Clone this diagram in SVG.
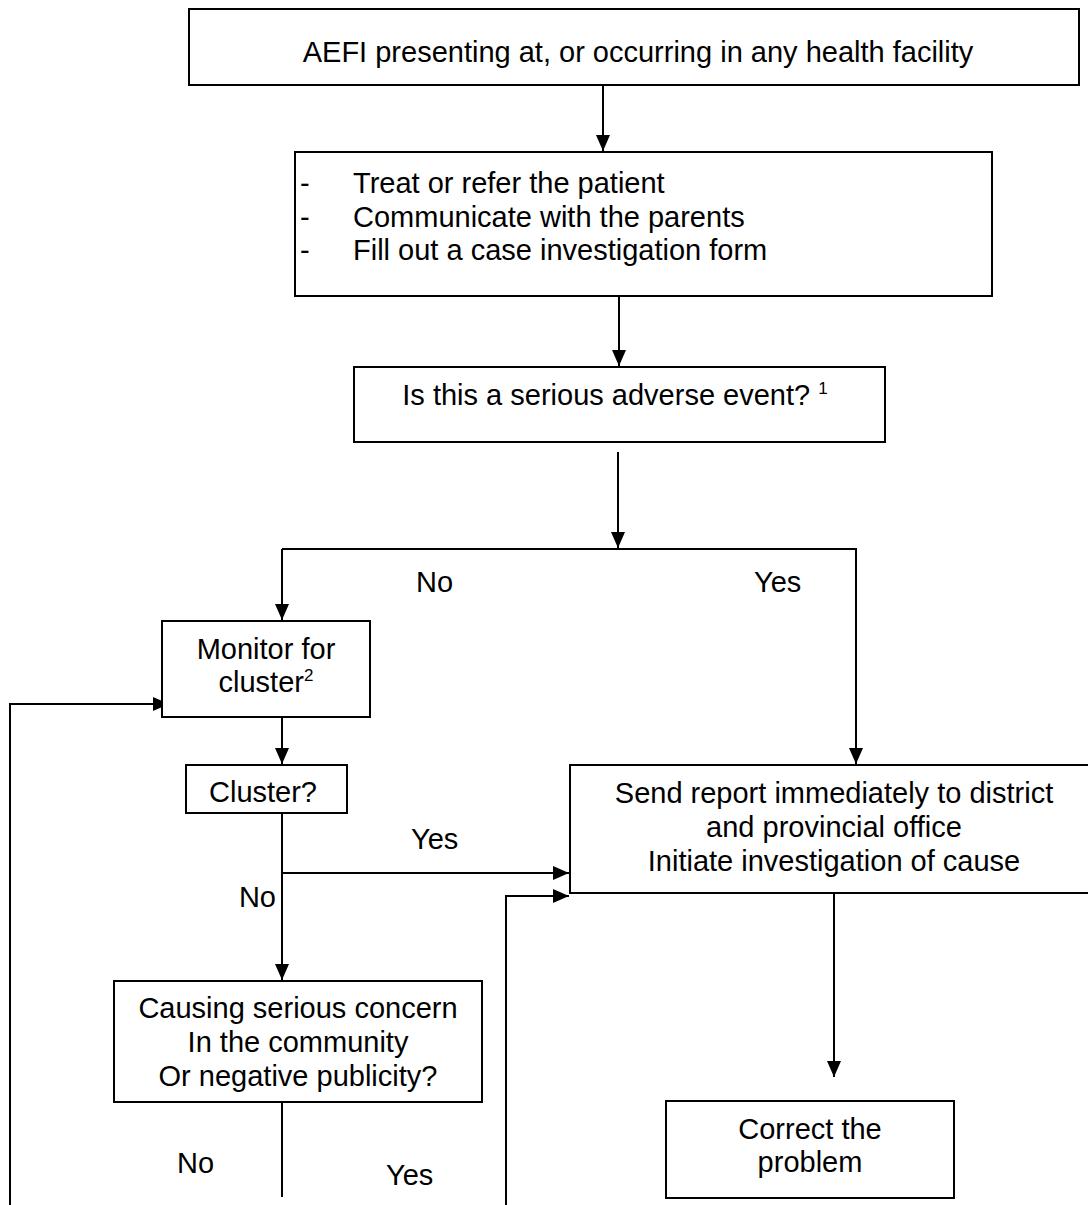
<svg xmlns="http://www.w3.org/2000/svg" width="1088" height="1205" viewBox="0 0 1088 1205">
<defs>
<marker id="ah" markerUnits="userSpaceOnUse" markerWidth="16" markerHeight="14" refX="16" refY="7" orient="auto">
<path d="M0,0 L16,7 L0,14 z" fill="#000"/>
</marker>
<style>
.box{fill:#fff;stroke:#000;stroke-width:2}
.t{font-family:"Liberation Sans",Arial,sans-serif;font-size:29px;fill:#000}
.c{text-anchor:middle}
.ln{fill:none;stroke:#000;stroke-width:2}
.sup{font-size:17px}
</style>
</defs>
<rect width="1088" height="1205" fill="#fff"/>
<g id="connectors">
<path class="ln" d="M603,85 V151" marker-end="url(#ah)"/>
<path class="ln" d="M619,296 V366" marker-end="url(#ah)"/>
<path class="ln" d="M618,452 V548" marker-end="url(#ah)"/>
<path class="ln" d="M282,549 H857"/>
<path class="ln" d="M282,549 V620" marker-end="url(#ah)"/>
<path class="ln" d="M856,549 V764" marker-end="url(#ah)"/>
<path class="ln" d="M10,1205 V704 H169" marker-end="url(#ah)"/>
<path class="ln" d="M282,717 V764" marker-end="url(#ah)"/>
<path class="ln" d="M282,813 V980" marker-end="url(#ah)"/>
<path class="ln" d="M282,873 H569" marker-end="url(#ah)"/>
<path class="ln" d="M506,1205 V896 H569" marker-end="url(#ah)"/>
<path class="ln" d="M834,884 V1077" marker-end="url(#ah)"/>
<path class="ln" d="M282,1102 V1197"/>
<text class="t" x="416" y="592">No</text>
<text class="t" x="754" y="592">Yes</text>
<text class="t" x="411" y="849">Yes</text>
<text class="t" x="276" y="907" text-anchor="end">No</text>
<text class="t" x="177" y="1173">No</text>
<text class="t" x="386" y="1185">Yes</text>
</g>
<g id="n1">
<rect class="box" x="189" y="9" width="890" height="76"/>
<text class="t c" x="638" y="62">AEFI presenting at, or occurring in any health facility</text>
</g>
<g id="n2">
<rect class="box" x="295" y="152" width="697" height="144"/>
<text class="t" x="300" y="193">-</text>
<text class="t" x="353" y="193">Treat or refer the patient</text>
<text class="t" x="300" y="227">-</text>
<text class="t" x="353" y="227">Communicate with the parents</text>
<text class="t" x="300" y="260">-</text>
<text class="t" x="353" y="260">Fill out a case investigation form</text>
</g>
<g id="n3">
<rect class="box" x="354" y="367" width="531" height="75"/>
<text class="t c" x="615" y="405">Is this a serious adverse event? <tspan class="sup" dy="-11">1</tspan></text>
</g>
<g id="n4">
<rect class="box" x="162" y="621" width="208" height="96"/>
<text class="t c" x="266" y="659">Monitor for</text>
<text class="t c" x="266" y="692">cluster<tspan class="sup" dy="-11">2</tspan></text>
</g>
<g id="n5">
<rect class="box" x="186" y="765" width="161" height="48"/>
<text class="t c" x="263" y="802">Cluster?</text>
</g>
<g id="n6">
<rect class="box" x="570" y="765" width="530" height="128"/>
<text class="t c" x="834" y="803">Send report immediately to district</text>
<text class="t c" x="834" y="837">and provincial office</text>
<text class="t c" x="834" y="871">Initiate investigation of cause</text>
</g>
<g id="n7">
<rect class="box" x="114" y="981" width="368" height="121"/>
<text class="t c" x="298" y="1018">Causing serious concern</text>
<text class="t c" x="298" y="1052">In the community</text>
<text class="t c" x="298" y="1086">Or negative publicity?</text>
</g>
<g id="n8">
<rect class="box" x="666" y="1101" width="288" height="97"/>
<text class="t c" x="810" y="1139">Correct the</text>
<text class="t c" x="810" y="1172">problem</text>
</g>
</svg>
